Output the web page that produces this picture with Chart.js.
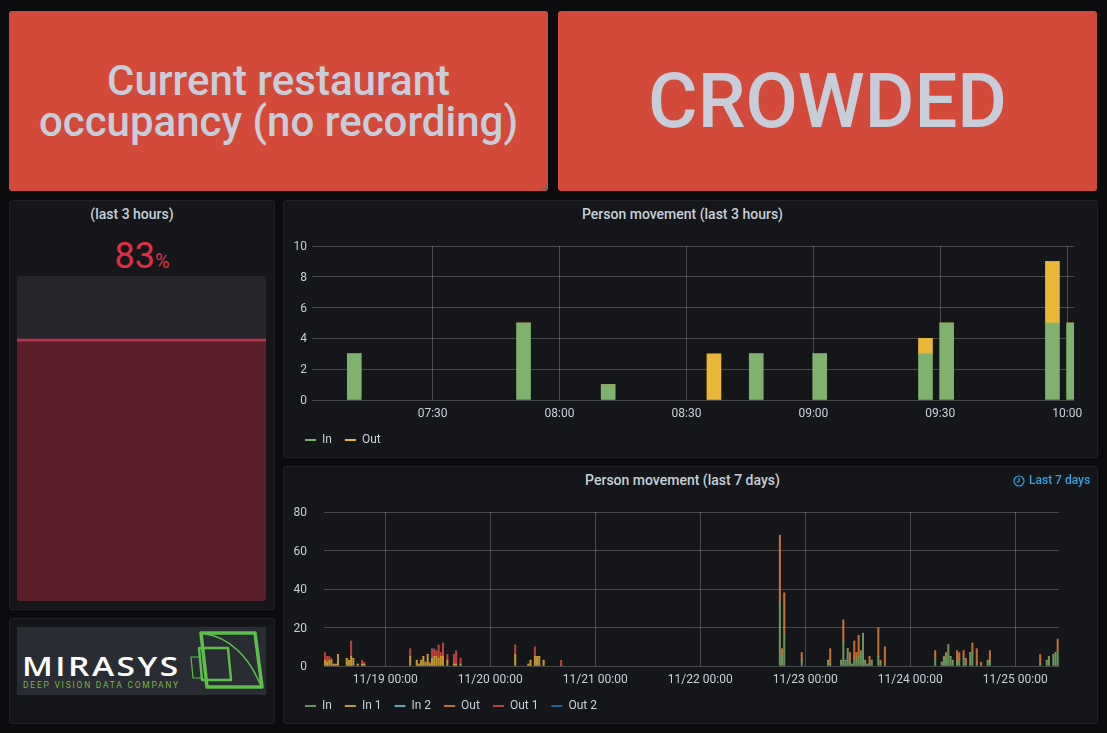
<!DOCTYPE html>
<html>
<head>
<meta charset="utf-8">
<title>Restaurant occupancy</title>
<script src="https://cdn.jsdelivr.net/npm/chart.js@4/dist/chart.umd.js"></script>
<style>
  html, body { margin: 0; padding: 0; background: #0b0c0e; }
  body { width: 1107px; height: 733px; position: relative; overflow: hidden; font-family: Roboto, sans-serif; color: #c7d0d9; }
  .panel { position: absolute; box-sizing: border-box; background: #141619; border: 1px solid #202226; border-radius: 3px; }
  .panel canvas { position: absolute; left: 0; top: 0; }
  .stat { background: #d44a3a; border: 0; display: flex; align-items: center; justify-content: center; text-align: center; color: #c8ced9; font-weight: 500; }
  .title { position: absolute; top: 5px; left: 0; width: 100%; text-align: center; font-size: 14px; font-weight: 500; line-height: 17px; color: #c7d0d9; }
  .range { position: absolute; left: 1029px; top: 472px; font-size: 12px; font-weight: 500; line-height: 16px; color: #33a2e5; }
  #gaugeValue { position: absolute; left: 0; top: 34px; width: 100%; text-align: center; color: #e02f44; font-size: 36px; line-height: 42px; font-weight: 400; }
  #gaugeValue span { font-size: 20px; }
  #gaugeBox { position: absolute; left: 7px; top: 75px; width: 249px; height: 325px; background: #25262b; border-radius: 3px; overflow: hidden; }
  #logo { position: absolute; left: 7px; top: 8px; width: 249px; height: 68px; background: #2a2c33; overflow: hidden; }
  #logoName { position: absolute; left: 5px; top: 23px; font-family: "Open Sans", sans-serif; font-size: 27px; line-height: 32px; font-weight: 600; letter-spacing: 2px; color: #fff; transform: scaleX(1.24); transform-origin: left center; }
  #logoTag { position: absolute; left: 6px; top: 53px; font-size: 8.5px; line-height: 10px; letter-spacing: 1.75px; color: #7ab648; white-space: nowrap; }
</style>
</head>
<body>
  <div class="panel stat" style="left:9px;top:11px;width:539px;height:180px;font-size:42px;line-height:41px;">Current restaurant<br>occupancy (no recording)</div>
  <svg style="position:absolute;left:539px;top:182px" width="8" height="8"><path d="M7 1V7H1M7 4V7H4" fill="none" stroke="#666" stroke-width="1"/></svg>
  <div class="panel stat" style="left:558px;top:11px;width:539px;height:180px;font-size:76px;">CROWDED</div>

  <div class="panel" style="left:9px;top:200px;width:266px;height:410px;">
    <div class="title" style="left:-10px">(last 3 hours)</div>
    <div id="gaugeValue">83<span>%</span></div>
    <div id="gaugeBox"><canvas id="chartGauge"></canvas></div>
  </div>

  <div class="panel" style="left:9px;top:618px;width:266px;height:106px;">
    <div id="logo">
      <div id="logoName">MIRASYS</div>
      <div id="logoTag">DEEP VISION DATA COMPANY</div>
      <svg style="position:absolute;left:0;top:0" width="249" height="68" fill="none" stroke="#5cbf4a">
        <path d="M184 6H238L245 60H190Z" stroke-width="3.5" stroke-linejoin="round"/>
        <path d="M188 7C212 10 232 30 243 57" stroke-width="1.5"/>
        <path d="M182 21H211L214 53H185Z" stroke-width="2.5" stroke-linejoin="round"/>
        <path d="M183 30H174L176 51H186" stroke-width="1.2"/>
      </svg>
    </div>
  </div>

  <div class="panel" style="left:283px;top:200px;width:815px;height:258px;">
    <div class="title" style="left:-8px">Person movement (last 3 hours)</div>
    <canvas id="chartHours"></canvas>
  </div>

  <div class="panel" style="left:283px;top:466px;width:815px;height:258px;">
    <div class="title" style="left:-8px">Person movement (last 7 days)</div>
    <canvas id="chartDays"></canvas>
  </div>
  <svg style="position:absolute;left:1013px;top:475px" width="12" height="12" fill="none" stroke="#33a2e5" stroke-width="1.2"><circle cx="6" cy="6" r="5"/><path d="M6 3V6.3L3.8 7.6"/></svg>
  <div class="range">Last 7 days</div>

<script>
// last 3 hours, one row per 5 minute bucket that has traffic
const hourBuckets = ["07:10", "07:50", "08:10", "08:35", "08:45", "09:00", "09:25", "09:30", "09:55", "10:00"];
const hourIn = [3, 5, 1, 0, 3, 3, 3, 5, 5, 5];
const hourOut = [0, 0, 0, 3, 0, 0, 1, 0, 4, 0];
const hourTicks = ["07:30", "08:00", "08:30", "09:00", "09:30", "10:00"];

// last 7 days, half hour buckets counted from 11/18 00:00
const oldSlots = [20, 21, 22, 23, 24, 25, 26, 30, 31, 32, 33, 35, 37, 38, 59, 62, 63, 64, 65, 66, 67, 68, 69, 70, 71, 72, 73, 74, 76, 79, 80, 82, 107, 113, 114, 116, 117, 118, 120, 128];
const in1Values = [3, 2, 3, 3, 1, 1, 6, 4, 3, 5, 4, 1, 1, 1, 5, 3, 1, 3, 5, 2, 6, 1, 3, 5, 5, 4, 5, 5, 3, 1, 1, 1, 6, 1, 3, 5, 5, 5, 3, 0];
const out1Values = [4, 3, 2, 1, 0, 0, 0, 0, 0, 8, 0, 0, 2, 1, 4, 0, 0, 0, 0, 0, 0, 1, 5, 3, 3, 7, 2, 7, 3, 5, 7, 3, 5, 0, 0, 5, 0, 0, 0, 3];
const in2Slots = [69];
const in2Values = [1];
const out2Slots = [70];
const out2Values = [1];

const newSlots = [228, 229, 230, 238, 250, 251, 256, 257, 258, 259, 260, 261, 262, 263, 264, 265, 266, 267, 268, 269, 270, 273, 274, 276, 299, 302, 303, 304, 305, 306, 307, 309, 310, 312, 313, 315, 316, 318, 320, 323, 324, 347, 350, 351, 353, 354, 355];
const inValues = [33, 5, 17, 3, 3, 1, 3, 13, 3, 9, 2, 1, 4, 3, 5, 7, 17, 3, 1, 1, 3, 5, 2, 0, 4, 2, 4, 6, 11, 5, 3, 2, 3, 4, 1, 7, 7, 1, 0, 3, 2, 1, 3, 5, 6, 7, 8];
const outValues = [35, 4, 21, 4, 0, 8, 0, 11, 0, 0, 5, 0, 9, 4, 11, 1, 0, 0, 0, 4, 0, 15, 1, 10, 4, 0, 1, 1, 0, 0, 0, 6, 4, 4, 3, 0, 5, 8, 2, 0, 6, 5, 0, 0, 0, 0, 6];
const dayTicks = ["11/19 00:00", "11/20 00:00", "11/21 00:00", "11/22 00:00", "11/23 00:00", "11/24 00:00", "11/25 00:00"];

const occupancyPct = [83];

const TEXT = "#c7d0d9";
const GRID = "rgba(255,255,255,0.22)";

function toMinutes(hhmm) {
  const parts = hhmm.split(":");
  return Number(parts[0]) * 60 + Number(parts[1]);
}

function zip(xs, ys, shift) {
  return xs.map((x, i) => ({ x: x + shift, y: ys[i] }));
}

function graphOptions(cfg) {
  return {
    responsive: false,
    animation: false,
    layout: { padding: { top: 45, left: 8, right: cfg.right, bottom: 1 } },
    plugins: {
      tooltip: { enabled: false },
      legend: {
        position: "bottom",
        align: "start",
        labels: {
          boxWidth: 11,
          boxHeight: 2,
          padding: 13,
          color: TEXT,
          font: { family: "Roboto", size: 12 },
        },
      },
    },
    scales: {
      x: {
        type: "linear",
        stacked: true,
        offset: false,
        bounds: "data",
        min: cfg.xMin,
        max: cfg.xMax,
        afterBuildTicks: (scale) => {
          scale.ticks = cfg.xValues.map((value) => ({ value }));
        },
        afterFit: (scale) => { scale.height = 21; },
        grid: { color: GRID, drawTicks: false, offset: false },
        border: { display: false },
        ticks: {
          autoSkip: false,
          maxRotation: 0,
          padding: 7,
          color: TEXT,
          font: { family: "Roboto", size: 12 },
          callback: (v) => cfg.xLabels[cfg.xValues.indexOf(v)],
        },
      },
      y: {
        stacked: true,
        min: 0,
        max: cfg.yMax,
        afterFit: (scale) => { scale.width = cfg.yWidth; },
        grid: { color: GRID, drawTicks: false },
        border: { display: false },
        ticks: {
          stepSize: cfg.yStep,
          padding: cfg.yPad,
          labelOffset: 1,
          color: TEXT,
          font: { family: "Roboto", size: 12 },
        },
      },
    },
  };
}

function bootHours() {
  // bars start at the bucket time, so move them half a bar to the right
  const minutes = hourBuckets.map(toMinutes);
  const shift = 1.5;
  new Chart(document.getElementById("chartHours"), {
    type: "bar",
    data: {
      datasets: [
        { label: "In", data: zip(minutes, hourIn, shift), backgroundColor: "#7eb26d", borderColor: "#7eb26d", barThickness: 14 },
        { label: "Out", data: zip(minutes, hourOut, shift), backgroundColor: "#eab839", borderColor: "#eab839", barThickness: 14 },
      ],
    },
    options: graphOptions({
      right: 23,
      xMin: 421.5,
      xMax: 601.6,
      xValues: hourTicks.map(toMinutes),
      xLabels: hourTicks,
      yMax: 10,
      yStep: 2,
      yWidth: 20,
      yPad: 5,
    }),
  });
}

function bootDays() {
  const shift = 0.4;
  const bar = (label, xs, ys, color) => ({
    label,
    data: zip(xs, ys, shift),
    backgroundColor: color + "cc",
    borderColor: color + "cc",
    barThickness: 1.4,
  });
  new Chart(document.getElementById("chartDays"), {
    type: "bar",
    data: {
      datasets: [
        bar("In", newSlots, inValues, "#7eb26d"),
        bar("In 1", oldSlots, in1Values, "#eab839"),
        bar("In 2", in2Slots, in2Values, "#6ed0e0"),
        bar("Out", newSlots, outValues, "#ef843c"),
        bar("Out 1", oldSlots, out1Values, "#e24d42"),
        bar("Out 2", out2Slots, out2Values, "#1f78c1"),
      ],
    },
    options: graphOptions({
      right: 38,
      xMin: 20,
      xMax: 356,
      xValues: dayTicks.map((t, i) => (i + 1) * 48),
      xLabels: dayTicks,
      yMax: 80,
      yStep: 20,
      yWidth: 32,
      yPad: 17,
    }),
  });
}

function bootGauge() {
  new Chart(document.getElementById("chartGauge"), {
    type: "bar",
    data: {
      labels: ["Occupancy"],
      datasets: [
        {
          data: occupancyPct,
          backgroundColor: "#5a1f28",
          borderColor: "#b83049",
          borderWidth: { top: 3, left: 0, right: 0, bottom: 0 },
          barPercentage: 1,
          categoryPercentage: 1,
        },
      ],
    },
    options: {
      responsive: false,
      animation: false,
      plugins: { legend: { display: false }, tooltip: { enabled: false } },
      scales: {
        x: { display: false },
        y: { display: false, min: 0, max: 102.9 },
      },
    },
  });
}

function sizeCanvases() {
  [["chartHours", 813, 256], ["chartDays", 813, 256], ["chartGauge", 249, 325]].forEach(([id, w, h]) => {
    const c = document.getElementById(id);
    c.width = w;
    c.height = h;
    c.style.width = w + "px";
    c.style.height = h + "px";
  });
}

document.addEventListener("DOMContentLoaded", () => {
  sizeCanvases();
  bootHours();
  bootDays();
  bootGauge();
});
</script>
</body>
</html>
